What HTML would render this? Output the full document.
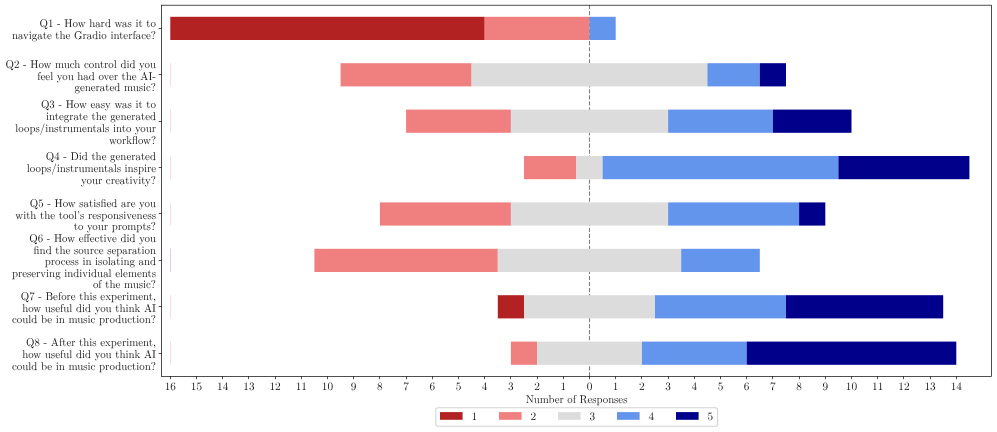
<!DOCTYPE html>
<html lang="en"><head><meta charset="utf-8"><title>Survey responses</title>
<style>html,body{margin:0;padding:0;background:#fff}body{width:997px;height:432px;overflow:hidden}svg{display:block}text{text-rendering:geometricPrecision;font-family:"LM Roman 10","Liberation Serif","DejaVu Serif",serif;fill:#141414}</style></head><body>
<svg width="997" height="432" viewBox="0 0 997 432">
<rect width="997" height="432" fill="#fff"/>
<path d="M589.5 5.0V376.4" stroke="#808080" stroke-width="1.11" stroke-dasharray="4.2 1.82" fill="none"/>
<rect x="170" y="63.20" width="1" height="23.20" fill="#d04040" opacity="0.18"/>
<rect x="170" y="109.60" width="1" height="23.20" fill="#d04040" opacity="0.18"/>
<rect x="170" y="156.00" width="1" height="23.20" fill="#d04040" opacity="0.18"/>
<rect x="170" y="202.40" width="1" height="23.20" fill="#d04040" opacity="0.18"/>
<rect x="170" y="248.80" width="1" height="23.20" fill="#a070b0" opacity="0.35"/>
<rect x="170" y="295.20" width="1" height="23.20" fill="#d04040" opacity="0.18"/>
<rect x="170" y="341.60" width="1" height="23.20" fill="#d04040" opacity="0.18"/>
<rect x="170.30" y="16.80" width="314.40" height="23.20" fill="#B22222"/>
<rect x="484.70" y="16.80" width="104.80" height="23.20" fill="#F08080"/>
<rect x="589.50" y="16.80" width="26.20" height="23.20" fill="#6495ED"/>
<rect x="340.60" y="63.20" width="131.00" height="23.20" fill="#F08080"/>
<rect x="471.60" y="63.20" width="235.80" height="23.20" fill="#DCDCDC"/>
<rect x="707.40" y="63.20" width="52.40" height="23.20" fill="#6495ED"/>
<rect x="759.80" y="63.20" width="26.20" height="23.20" fill="#00008B"/>
<rect x="406.10" y="109.60" width="104.80" height="23.20" fill="#F08080"/>
<rect x="510.90" y="109.60" width="157.20" height="23.20" fill="#DCDCDC"/>
<rect x="668.10" y="109.60" width="104.80" height="23.20" fill="#6495ED"/>
<rect x="772.90" y="109.60" width="78.60" height="23.20" fill="#00008B"/>
<rect x="524.00" y="156.00" width="52.40" height="23.20" fill="#F08080"/>
<rect x="576.40" y="156.00" width="26.20" height="23.20" fill="#DCDCDC"/>
<rect x="602.60" y="156.00" width="235.80" height="23.20" fill="#6495ED"/>
<rect x="838.40" y="156.00" width="131.00" height="23.20" fill="#00008B"/>
<rect x="379.90" y="202.40" width="131.00" height="23.20" fill="#F08080"/>
<rect x="510.90" y="202.40" width="157.20" height="23.20" fill="#DCDCDC"/>
<rect x="668.10" y="202.40" width="131.00" height="23.20" fill="#6495ED"/>
<rect x="799.10" y="202.40" width="26.20" height="23.20" fill="#00008B"/>
<rect x="314.40" y="248.80" width="183.40" height="23.20" fill="#F08080"/>
<rect x="497.80" y="248.80" width="183.40" height="23.20" fill="#DCDCDC"/>
<rect x="681.20" y="248.80" width="78.60" height="23.20" fill="#6495ED"/>
<rect x="497.80" y="295.20" width="26.20" height="23.20" fill="#B22222"/>
<rect x="524.00" y="295.20" width="131.00" height="23.20" fill="#DCDCDC"/>
<rect x="655.00" y="295.20" width="131.00" height="23.20" fill="#6495ED"/>
<rect x="786.00" y="295.20" width="157.20" height="23.20" fill="#00008B"/>
<rect x="510.90" y="341.60" width="26.20" height="23.20" fill="#F08080"/>
<rect x="537.10" y="341.60" width="104.80" height="23.20" fill="#DCDCDC"/>
<rect x="641.90" y="341.60" width="104.80" height="23.20" fill="#6495ED"/>
<rect x="746.70" y="341.60" width="209.60" height="23.20" fill="#00008B"/>
<path d="M161.5 28.5h-2.8M161.5 74.5h-2.8M161.5 121.5h-2.8M161.5 167.5h-2.8M161.5 213.5h-2.8M161.5 260.5h-2.8M161.5 306.5h-2.8M161.5 353.5h-2.8M170.5 376.4v2.8M196.5 376.4v2.8M222.5 376.4v2.8M248.5 376.4v2.8M275.5 376.4v2.8M301.5 376.4v2.8M327.5 376.4v2.8M353.5 376.4v2.8M379.5 376.4v2.8M406.5 376.4v2.8M432.5 376.4v2.8M458.5 376.4v2.8M484.5 376.4v2.8M510.5 376.4v2.8M537.5 376.4v2.8M563.5 376.4v2.8M589.5 376.4v2.8M615.5 376.4v2.8M641.5 376.4v2.8M668.5 376.4v2.8M694.5 376.4v2.8M720.5 376.4v2.8M746.5 376.4v2.8M772.5 376.4v2.8M799.5 376.4v2.8M825.5 376.4v2.8M851.5 376.4v2.8M877.5 376.4v2.8M903.5 376.4v2.8M930.5 376.4v2.8M956.5 376.4v2.8" stroke="#000" stroke-width="0.69" fill="none"/>
<rect x="161.5" y="5.2" width="830.0" height="371.2" fill="none" stroke="#000" stroke-width="0.69"/>
<g font-size="11.3">
<text x="39.6" y="27.00" textLength="116.4" lengthAdjust="spacingAndGlyphs">Q1 - How hard was it to</text>
<text x="11.9" y="39.00" textLength="144.1" lengthAdjust="spacingAndGlyphs">navigate the Gradio interface?</text>
<text x="5.6" y="68.00" textLength="150.4" lengthAdjust="spacingAndGlyphs">Q2 - How much control did you</text>
<text x="37.2" y="80.00" textLength="118.8" lengthAdjust="spacingAndGlyphs">feel you had over the AI-</text>
<text x="74.5" y="91.00" textLength="81.5" lengthAdjust="spacingAndGlyphs">generated music?</text>
<text x="40.9" y="108.00" textLength="115.1" lengthAdjust="spacingAndGlyphs">Q3 - How easy was it to</text>
<text x="46.0" y="120.00" textLength="110.0" lengthAdjust="spacingAndGlyphs">integrate the generated</text>
<text x="15.3" y="132.00" textLength="140.7" lengthAdjust="spacingAndGlyphs">loops/instrumentals into your</text>
<text x="109.1" y="144.00" textLength="46.9" lengthAdjust="spacingAndGlyphs">workflow?</text>
<text x="45.7" y="160.00" textLength="110.3" lengthAdjust="spacingAndGlyphs">Q4 - Did the generated</text>
<text x="26.8" y="172.00" textLength="129.2" lengthAdjust="spacingAndGlyphs">loops/instrumentals inspire</text>
<text x="81.0" y="184.00" textLength="75.0" lengthAdjust="spacingAndGlyphs">your creativity?</text>
<text x="29.8" y="207.00" textLength="126.2" lengthAdjust="spacingAndGlyphs">Q5 - How satisfied are you</text>
<text x="15.3" y="219.00" textLength="140.7" lengthAdjust="spacingAndGlyphs">with the tool’s responsiveness</text>
<text x="73.7" y="230.00" textLength="82.3" lengthAdjust="spacingAndGlyphs">to your prompts?</text>
<text x="29.3" y="242.00" textLength="126.7" lengthAdjust="spacingAndGlyphs">Q6 - How effective did you</text>
<text x="33.6" y="254.00" textLength="122.4" lengthAdjust="spacingAndGlyphs">find the source separation</text>
<text x="44.7" y="265.00" textLength="111.3" lengthAdjust="spacingAndGlyphs">process in isolating and</text>
<text x="11.9" y="277.00" textLength="144.1" lengthAdjust="spacingAndGlyphs">preserving individual elements</text>
<text x="92.9" y="288.00" textLength="63.1" lengthAdjust="spacingAndGlyphs">of the music?</text>
<text x="20.8" y="300.00" textLength="135.2" lengthAdjust="spacingAndGlyphs">Q7 - Before this experiment,</text>
<text x="22.2" y="312.00" textLength="133.8" lengthAdjust="spacingAndGlyphs">how useful did you think AI</text>
<text x="11.9" y="323.00" textLength="144.1" lengthAdjust="spacingAndGlyphs">could be in music production?</text>
<text x="26.1" y="346.00" textLength="129.9" lengthAdjust="spacingAndGlyphs">Q8 - After this experiment,</text>
<text x="22.2" y="358.00" textLength="133.8" lengthAdjust="spacingAndGlyphs">how useful did you think AI</text>
<text x="11.9" y="370.00" textLength="144.1" lengthAdjust="spacingAndGlyphs">could be in music production?</text>
</g>
<g font-size="11.3" text-anchor="middle">
<text x="170.30" y="390">16</text>
<text x="196.50" y="390">15</text>
<text x="222.70" y="390">14</text>
<text x="248.90" y="390">13</text>
<text x="275.10" y="390">12</text>
<text x="301.30" y="390">11</text>
<text x="327.50" y="390">10</text>
<text x="353.70" y="390">9</text>
<text x="379.90" y="390">8</text>
<text x="406.10" y="390">7</text>
<text x="432.30" y="390">6</text>
<text x="458.50" y="390">5</text>
<text x="484.70" y="390">4</text>
<text x="510.90" y="390">3</text>
<text x="537.10" y="390">2</text>
<text x="563.30" y="390">1</text>
<text x="589.50" y="390">0</text>
<text x="615.70" y="390">1</text>
<text x="641.90" y="390">2</text>
<text x="668.10" y="390">3</text>
<text x="694.30" y="390">4</text>
<text x="720.50" y="390">5</text>
<text x="746.70" y="390">6</text>
<text x="772.90" y="390">7</text>
<text x="799.10" y="390">8</text>
<text x="825.30" y="390">9</text>
<text x="851.50" y="390">10</text>
<text x="877.70" y="390">11</text>
<text x="903.90" y="390">12</text>
<text x="930.10" y="390">13</text>
<text x="956.30" y="390">14</text>
</g>
<text x="525.7" y="403" font-size="11.3" textLength="101.7" lengthAdjust="spacingAndGlyphs">Number of Responses</text>
<rect x="435.8" y="407.7" width="281.8" height="18.6" rx="2.2" ry="2.2" fill="#fff" stroke="#d4d4d4" stroke-width="1.1"/>
<rect x="440.0" y="412.1" width="22.6" height="7.7" fill="#B22222"/>
<text x="471.6" y="420" font-size="11.3">1</text>
<rect x="499.0" y="412.1" width="22.6" height="7.7" fill="#F08080"/>
<text x="530.6" y="420" font-size="11.3">2</text>
<rect x="558.0" y="412.1" width="22.6" height="7.7" fill="#DCDCDC"/>
<text x="589.6" y="420" font-size="11.3">3</text>
<rect x="617.0" y="412.1" width="22.6" height="7.7" fill="#6495ED"/>
<text x="648.6" y="420" font-size="11.3">4</text>
<rect x="676.0" y="412.1" width="22.6" height="7.7" fill="#00008B"/>
<text x="707.6" y="420" font-size="11.3">5</text>
</svg></body></html>
